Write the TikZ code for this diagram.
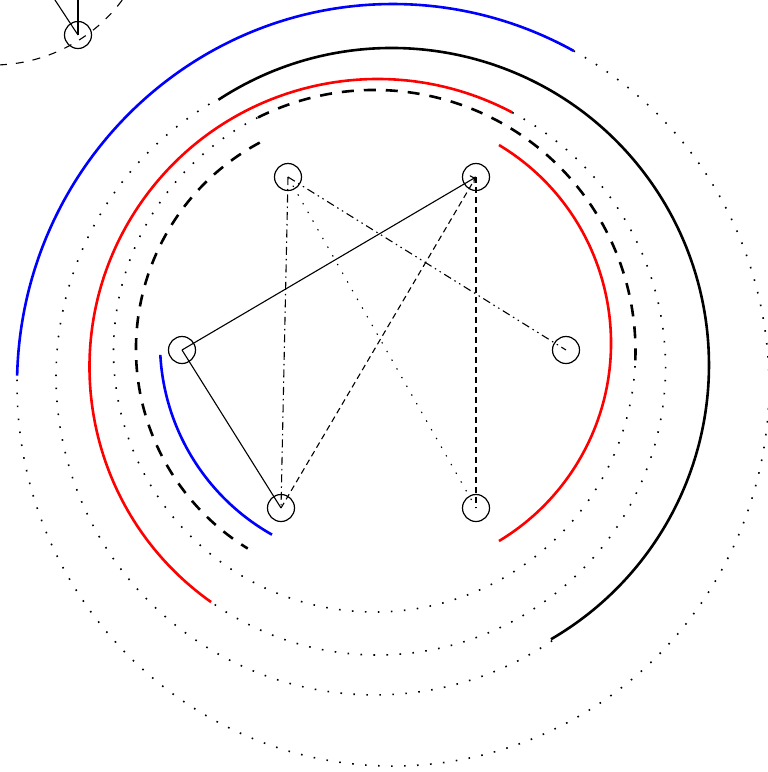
\documentclass[tikz,border=0pt]{standalone}
\usetikzlibrary{arrows.meta}
\begin{document}
\begin{tikzpicture}[x=1pt,y=-1pt,
  dotc/.style={line width=1.6pt, dash pattern=on 1.6pt off 11.4pt},
  thickarc/.style={line width=2.6pt},
  thickdash/.style={line width=2.6pt, dash pattern=on 12pt off 10pt},
  edge/.style={line width=1.1pt},
  nd/.style={circle, draw, line width=1.2pt, minimum size=27pt, inner sep=0pt},
  edash/.style={edge, dash pattern=on 6pt off 4pt},
  edashdot/.style={edge, dash pattern=on 8pt off 4pt on 1.5pt off 4pt},
  edashdotdot/.style={edge, dash pattern=on 8pt off 4pt on 1.5pt off 4pt on 1.5pt off 4pt},
  edot/.style={edge, dash pattern=on 1.4pt off 8.6pt}]
\useasboundingbox (0,0) rectangle (768,772);
\clip (0,0) rectangle (768,772);

% outer blue arc and its dotted ellipse
\draw[blue, thickarc] (393,385) ++(181.4:376 and 381) arc[start angle=181.4, end angle=298.7, x radius=376, y radius=381];
\draw[dotc] (393,385) ++(298.7:376 and 381) arc[start angle=298.7, end angle=541.4, x radius=376, y radius=381];

% black arc and dotted companion
\draw[thickarc] (392,365) ++(236.8:317) arc[start angle=236.8, end angle=419.9, radius=317];
\draw[dotc] (374.5,376.4) ++(56.1:318.5) arc[start angle=56.1, end angle=240.6, radius=318.5];

% red outer arc
\draw[red, thickarc] (377.5,367) ++(125.3:288) arc[start angle=125.3, end angle=297.9, radius=288];
\draw[dotc] (377.5,367) ++(297.9:288) arc[start angle=297.9, end angle=485.3, radius=288];

% dashed arc A
\draw[thickdash] (374.5,351) ++(243.5:261) arc[start angle=243.5, end angle=363.3, radius=261];
\draw[dotc] (374.5,351) ++(3.3:261) arc[start angle=3.3, end angle=243.5, radius=261];

% dashed arc B
\draw[thickdash] (370,349) ++(241.9:234) arc[start angle=241.9, end angle=121.5, radius=234];

% red right arc
\draw[red, thickarc] (380,343) ++(-59:231) arc[start angle=-59, end angle=59, radius=231];

% blue inner arc
\draw[blue, thickarc] (380,343) ++(119.4:220) arc[start angle=119.4, end angle=176.9, radius=220];

% thin dashed arc top-left
\draw[edge, dash pattern=on 8pt off 9pt] (-7,-96) ++(100:161) arc[start angle=100, end angle=20, radius=161];

% nodes
\node[nd] (t) at (78,35) {};
\node[nd] (a) at (288,177) {};
\node[nd] (b) at (476,177) {};
\node[nd] (c) at (182,350) {};
\node[nd] (d) at (566,350) {};
\node[nd] (e) at (281,508) {};
\node[nd] (f) at (476,508) {};
\coordinate (o1) at (78,-60);
\coordinate (o2) at (32,-35);

% edges
\draw[edge] (t.center) -- (o1);
\draw[edge] (t.center) -- (o2);
\draw[edge, -{To[length=5pt,width=9pt]}] (c.center) -- (b.center);
\draw[edge] (c.center) -- (e.center);
\draw[edashdot] (a.center) -- (e.center);
\draw[edashdotdot] (a.center) -- (d.center);
\draw[edot] (a.center) -- (f.center);
\draw[edash] (e.center) -- (b.center);
\draw[edash] (b.center) -- (f.center);
\end{tikzpicture}
\end{document}
